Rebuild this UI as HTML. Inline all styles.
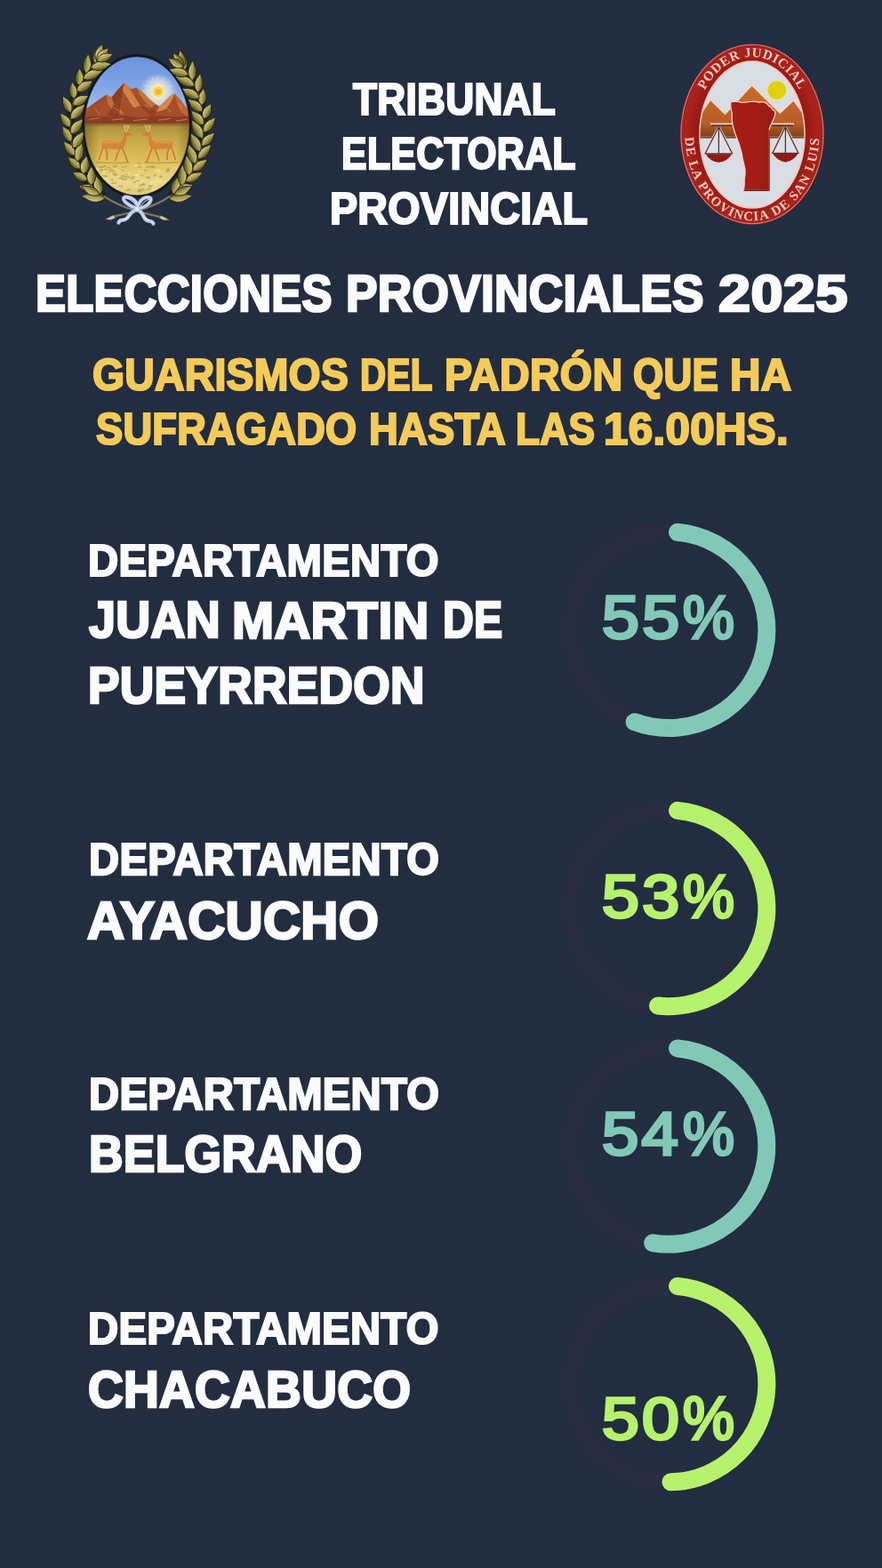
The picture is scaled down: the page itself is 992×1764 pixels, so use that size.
<!DOCTYPE html>
<html lang="es">
<head>
<meta charset="utf-8">
<meta name="viewport" content="width=992">
<title>Tribunal Electoral Provincial - Elecciones Provinciales 2025</title>
<style>
html,body{margin:0;padding:0;background:#232d40;}
body{width:992px;height:1764px;position:relative;overflow:hidden;font-family:"Liberation Sans",sans-serif;}
header,h1,p,section{margin:0;padding:0;font-size:0;line-height:0;}
.t{position:absolute;display:block;white-space:nowrap;line-height:1;font-weight:700;transform-origin:0 0;margin:0;}
svg.layer{position:absolute;left:0;top:0;}
</style>
</head>
<body>
<svg class="layer" width="992" height="1764" viewBox="0 0 992 1764" aria-hidden="true">
<g id="escudo-san-luis">
<defs>
<clipPath id="esClip"><ellipse cx="154.0" cy="141.8" rx="59.0" ry="78.0"/></clipPath>
<linearGradient id="esSky" x1="0" y1="0" x2="0" y2="1"><stop offset="0" stop-color="#6690dc"/><stop offset="0.45" stop-color="#81a5e6"/><stop offset="0.8" stop-color="#a9c0ec"/><stop offset="1" stop-color="#c6d3ec"/></linearGradient>
<linearGradient id="esGround" x1="0" y1="0" x2="0" y2="1"><stop offset="0" stop-color="#a88e3a"/><stop offset="0.14" stop-color="#bfa244"/><stop offset="0.4" stop-color="#d9b852"/><stop offset="0.58" stop-color="#e2c666"/><stop offset="0.8" stop-color="#e9d98e"/><stop offset="1" stop-color="#dcc878"/></linearGradient>
<radialGradient id="esGlow"><stop offset="0" stop-color="#fdf3c4"/><stop offset="0.35" stop-color="#f1e9c8" stop-opacity="0.9"/><stop offset="0.7" stop-color="#d5def0" stop-opacity="0.55"/><stop offset="1" stop-color="#c0d0ee" stop-opacity="0"/></radialGradient>
<radialGradient id="esSun"><stop offset="0" stop-color="#e9b52c"/><stop offset="0.55" stop-color="#f4cf3e"/><stop offset="1" stop-color="#f7e27a"/></radialGradient>
<linearGradient id="esEdge" x1="0" y1="0" x2="1" y2="0"><stop offset="0" stop-color="#3a3010" stop-opacity="0.45"/><stop offset="0.16" stop-color="#3a3010" stop-opacity="0"/><stop offset="0.86" stop-color="#3a3010" stop-opacity="0"/><stop offset="1" stop-color="#3a3010" stop-opacity="0.35"/></linearGradient>
<linearGradient id="esLeaf" x1="0" y1="0" x2="0" y2="1"><stop offset="0" stop-color="#ddd6a0"/><stop offset="0.45" stop-color="#a99d4c"/><stop offset="1" stop-color="#5c5622"/></linearGradient>
<linearGradient id="esLeaf2" x1="0" y1="1" x2="0" y2="0"><stop offset="0" stop-color="#d8d090"/><stop offset="0.5" stop-color="#9c9044"/><stop offset="1" stop-color="#524e1c"/></linearGradient>
<filter id="esSoft" x="-5%" y="-5%" width="110%" height="110%"><feGaussianBlur stdDeviation="0.55"/></filter>
<filter id="esSoft2" x="-10%" y="-10%" width="120%" height="120%"><feGaussianBlur stdDeviation="0.9"/></filter>
</defs>
<g filter="url(#esSoft)">
<ellipse cx="154" cy="141.8" rx="62" ry="81" fill="#151b28"/>
<path d="M116.5 221.0 L114.4 219.5 L112.3 217.9 L110.3 216.2 L108.3 214.4 L106.4 212.5 L104.5 210.5 L102.7 208.5 L100.9 206.4 L99.2 204.3 L97.5 202.0 L95.9 199.7 L94.4 197.4 L93.0 195.0 L91.6 192.5 L90.2 189.9 L89.0 187.4 L87.8 184.7 L86.6 182.1 L85.6 179.3 L84.6 176.6 L83.7 173.8 L82.9 170.9 L82.2 168.1 L81.5 165.2 L80.9 162.3 L80.4 159.3 L80.0 156.4 L79.6 153.4 L79.3 150.4 L79.1 147.4 L79.0 144.4 L79.0 141.4 L79.1 138.4 L79.2 135.4 L79.4 132.4 L79.7 129.4 L80.1 126.4 L80.5 123.5 L81.1 120.5 L81.7 117.6 L82.4 114.7 L83.1 111.9 L84.0 109.0 L84.9 106.2 L85.9 103.5 L87.0 100.8 L88.1 98.1 L89.3 95.5 L90.6 92.9 L91.9 90.4 L93.4 88.0 L94.8 85.6 L96.4 83.2 L98.0 80.9 L99.7 78.7 L101.4 76.6 L103.2 74.5 L105.0 72.5 L106.9 70.6 L108.9 68.7" fill="none" stroke="#191c18" stroke-width="9" opacity="0.85"/>
<path d="M116.5 221.0 L114.4 219.5 L112.3 217.9 L110.3 216.2 L108.3 214.4 L106.4 212.5 L104.5 210.5 L102.7 208.5 L100.9 206.4 L99.2 204.3 L97.5 202.0 L95.9 199.7 L94.4 197.4 L93.0 195.0 L91.6 192.5 L90.2 189.9 L89.0 187.4 L87.8 184.7 L86.6 182.1 L85.6 179.3 L84.6 176.6 L83.7 173.8 L82.9 170.9 L82.2 168.1 L81.5 165.2 L80.9 162.3 L80.4 159.3 L80.0 156.4 L79.6 153.4 L79.3 150.4 L79.1 147.4 L79.0 144.4 L79.0 141.4 L79.1 138.4 L79.2 135.4 L79.4 132.4 L79.7 129.4 L80.1 126.4 L80.5 123.5 L81.1 120.5 L81.7 117.6 L82.4 114.7 L83.1 111.9 L84.0 109.0 L84.9 106.2 L85.9 103.5 L87.0 100.8 L88.1 98.1 L89.3 95.5 L90.6 92.9 L91.9 90.4 L93.4 88.0 L94.8 85.6 L96.4 83.2 L98.0 80.9 L99.7 78.7 L101.4 76.6 L103.2 74.5 L105.0 72.5 L106.9 70.6 L108.9 68.7" fill="none" stroke="#5f5a2c" stroke-width="1.6"/>
<path transform="translate(113.1 218.5) rotate(-105.6)" d="M0 0Q6.8 -7.6 15.4 -3.8Q20.4 -1.3 22.6 0Q20.4 1.3 15.4 3.8Q6.8 7.6 0 0Z" fill="url(#esLeaf)" stroke="#23240f" stroke-width="0.8"/><path transform="translate(113.1 218.5) rotate(-105.6)" d="M2.7 0L20.4 0" stroke="#e6e2b6" stroke-width="0.5" opacity="0.55" fill="none"/>
<path transform="translate(108.1 214.2) rotate(-165.6)" d="M0 0Q6.1 -6.9 13.8 -3.4Q18.3 -1.1 20.4 0Q18.3 1.1 13.8 3.4Q6.1 6.9 0 0Z" fill="url(#esLeaf2)" stroke="#23240f" stroke-width="0.8"/><path transform="translate(108.1 214.2) rotate(-165.6)" d="M2.4 0L18.3 0" stroke="#e6e2b6" stroke-width="0.5" opacity="0.55" fill="none"/>
<path transform="translate(102.5 208.3) rotate(-88.9)" d="M0 0Q6.4 -7.6 14.5 -3.8Q19.2 -1.3 21.4 0Q19.2 1.3 14.5 3.8Q6.4 7.6 0 0Z" fill="url(#esLeaf)" stroke="#23240f" stroke-width="0.8"/><path transform="translate(102.5 208.3) rotate(-88.9)" d="M2.6 0L19.2 0" stroke="#e6e2b6" stroke-width="0.5" opacity="0.55" fill="none"/>
<path transform="translate(98.3 203.1) rotate(-150.8)" d="M0 0Q5.8 -6.9 13.1 -3.4Q17.3 -1.1 19.2 0Q17.3 1.1 13.1 3.4Q5.8 6.9 0 0Z" fill="url(#esLeaf2)" stroke="#23240f" stroke-width="0.8"/><path transform="translate(98.3 203.1) rotate(-150.8)" d="M2.3 0L17.3 0" stroke="#e6e2b6" stroke-width="0.5" opacity="0.55" fill="none"/>
<path transform="translate(93.6 196.1) rotate(-79.5)" d="M0 0Q6.4 -7.6 14.5 -3.8Q19.2 -1.3 21.3 0Q19.2 1.3 14.5 3.8Q6.4 7.6 0 0Z" fill="url(#esLeaf)" stroke="#23240f" stroke-width="0.8"/><path transform="translate(93.6 196.1) rotate(-79.5)" d="M2.6 0L19.2 0" stroke="#e6e2b6" stroke-width="0.5" opacity="0.55" fill="none"/>
<path transform="translate(90.2 189.9) rotate(-136.0)" d="M0 0Q5.7 -6.9 13.0 -3.4Q17.2 -1.1 19.2 0Q17.2 1.1 13.0 3.4Q5.7 6.9 0 0Z" fill="url(#esLeaf2)" stroke="#23240f" stroke-width="0.8"/><path transform="translate(90.2 189.9) rotate(-136.0)" d="M2.3 0L17.2 0" stroke="#e6e2b6" stroke-width="0.5" opacity="0.55" fill="none"/>
<path transform="translate(86.6 182.1) rotate(-77.3)" d="M0 0Q7.0 -7.6 15.8 -3.8Q20.9 -1.3 23.2 0Q20.9 1.3 15.8 3.8Q7.0 7.6 0 0Z" fill="url(#esLeaf)" stroke="#23240f" stroke-width="0.8"/><path transform="translate(86.6 182.1) rotate(-77.3)" d="M2.8 0L20.9 0" stroke="#e6e2b6" stroke-width="0.5" opacity="0.55" fill="none"/>
<path transform="translate(84.2 175.3) rotate(-127.9)" d="M0 0Q6.3 -6.9 14.2 -3.4Q18.8 -1.1 20.9 0Q18.8 1.1 14.2 3.4Q6.3 6.9 0 0Z" fill="url(#esLeaf2)" stroke="#23240f" stroke-width="0.8"/><path transform="translate(84.2 175.3) rotate(-127.9)" d="M2.5 0L18.8 0" stroke="#e6e2b6" stroke-width="0.5" opacity="0.55" fill="none"/>
<path transform="translate(81.8 166.8) rotate(-56.4)" d="M0 0Q6.9 -7.6 15.7 -3.8Q20.8 -1.3 23.1 0Q20.8 1.3 15.7 3.8Q6.9 7.6 0 0Z" fill="url(#esLeaf)" stroke="#23240f" stroke-width="0.8"/><path transform="translate(81.8 166.8) rotate(-56.4)" d="M2.8 0L20.8 0" stroke="#e6e2b6" stroke-width="0.5" opacity="0.55" fill="none"/>
<path transform="translate(80.4 159.6) rotate(-119.8)" d="M0 0Q6.2 -6.9 14.2 -3.4Q18.7 -1.1 20.8 0Q18.7 1.1 14.2 3.4Q6.2 6.9 0 0Z" fill="url(#esLeaf2)" stroke="#23240f" stroke-width="0.8"/><path transform="translate(80.4 159.6) rotate(-119.8)" d="M2.5 0L18.7 0" stroke="#e6e2b6" stroke-width="0.5" opacity="0.55" fill="none"/>
<path transform="translate(79.4 150.7) rotate(-51.1)" d="M0 0Q6.6 -7.6 15.0 -3.8Q19.9 -1.3 22.1 0Q19.9 1.3 15.0 3.8Q6.6 7.6 0 0Z" fill="url(#esLeaf)" stroke="#23240f" stroke-width="0.8"/><path transform="translate(79.4 150.7) rotate(-51.1)" d="M2.7 0L19.9 0" stroke="#e6e2b6" stroke-width="0.5" opacity="0.55" fill="none"/>
<path transform="translate(79.0 143.3) rotate(-124.5)" d="M0 0Q6.0 -6.9 13.5 -3.4Q17.9 -1.1 19.9 0Q17.9 1.1 13.5 3.4Q6.0 6.9 0 0Z" fill="url(#esLeaf2)" stroke="#23240f" stroke-width="0.8"/><path transform="translate(79.0 143.3) rotate(-124.5)" d="M2.4 0L17.9 0" stroke="#e6e2b6" stroke-width="0.5" opacity="0.55" fill="none"/>
<path transform="translate(79.3 134.3) rotate(-46.4)" d="M0 0Q7.2 -7.6 16.2 -3.8Q21.5 -1.3 23.9 0Q21.5 1.3 16.2 3.8Q7.2 7.6 0 0Z" fill="url(#esLeaf)" stroke="#23240f" stroke-width="0.8"/><path transform="translate(79.3 134.3) rotate(-46.4)" d="M2.9 0L21.5 0" stroke="#e6e2b6" stroke-width="0.5" opacity="0.55" fill="none"/>
<path transform="translate(80.0 126.9) rotate(-116.5)" d="M0 0Q6.4 -6.9 14.6 -3.4Q19.3 -1.1 21.5 0Q19.3 1.1 14.6 3.4Q6.4 6.9 0 0Z" fill="url(#esLeaf2)" stroke="#23240f" stroke-width="0.8"/><path transform="translate(80.0 126.9) rotate(-116.5)" d="M2.6 0L19.3 0" stroke="#e6e2b6" stroke-width="0.5" opacity="0.55" fill="none"/>
<path transform="translate(81.6 118.1) rotate(-30.5)" d="M0 0Q6.4 -7.6 14.4 -3.8Q19.1 -1.3 21.2 0Q19.1 1.3 14.4 3.8Q6.4 7.6 0 0Z" fill="url(#esLeaf)" stroke="#23240f" stroke-width="0.8"/><path transform="translate(81.6 118.1) rotate(-30.5)" d="M2.5 0L19.1 0" stroke="#e6e2b6" stroke-width="0.5" opacity="0.55" fill="none"/>
<path transform="translate(83.4 111.1) rotate(-96.9)" d="M0 0Q5.7 -6.9 13.0 -3.4Q17.2 -1.1 19.1 0Q17.2 1.1 13.0 3.4Q5.7 6.9 0 0Z" fill="url(#esLeaf2)" stroke="#23240f" stroke-width="0.8"/><path transform="translate(83.4 111.1) rotate(-96.9)" d="M2.3 0L17.2 0" stroke="#e6e2b6" stroke-width="0.5" opacity="0.55" fill="none"/>
<path transform="translate(86.2 102.7) rotate(-33.5)" d="M0 0Q6.5 -7.6 14.8 -3.8Q19.5 -1.3 21.7 0Q19.5 1.3 14.8 3.8Q6.5 7.6 0 0Z" fill="url(#esLeaf)" stroke="#23240f" stroke-width="0.8"/><path transform="translate(86.2 102.7) rotate(-33.5)" d="M2.6 0L19.5 0" stroke="#e6e2b6" stroke-width="0.5" opacity="0.55" fill="none"/>
<path transform="translate(89.0 96.2) rotate(-88.3)" d="M0 0Q5.9 -6.9 13.3 -3.4Q17.6 -1.1 19.5 0Q17.6 1.1 13.3 3.4Q5.9 6.9 0 0Z" fill="url(#esLeaf2)" stroke="#23240f" stroke-width="0.8"/><path transform="translate(89.0 96.2) rotate(-88.3)" d="M2.3 0L17.6 0" stroke="#e6e2b6" stroke-width="0.5" opacity="0.55" fill="none"/>
<path transform="translate(93.0 88.6) rotate(-23.3)" d="M0 0Q7.5 -7.6 17.1 -3.8Q22.6 -1.3 25.1 0Q22.6 1.3 17.1 3.8Q7.5 7.6 0 0Z" fill="url(#esLeaf)" stroke="#23240f" stroke-width="0.8"/><path transform="translate(93.0 88.6) rotate(-23.3)" d="M3.0 0L22.6 0" stroke="#e6e2b6" stroke-width="0.5" opacity="0.55" fill="none"/>
<path transform="translate(96.7 82.8) rotate(-83.2)" d="M0 0Q6.8 -6.9 15.3 -3.4Q20.3 -1.1 22.6 0Q20.3 1.1 15.3 3.4Q6.8 6.9 0 0Z" fill="url(#esLeaf2)" stroke="#23240f" stroke-width="0.8"/><path transform="translate(96.7 82.8) rotate(-83.2)" d="M2.7 0L20.3 0" stroke="#e6e2b6" stroke-width="0.5" opacity="0.55" fill="none"/>
<path transform="translate(101.7 76.2) rotate(-10.4)" d="M0 0Q7.3 -7.6 16.5 -3.8Q21.8 -1.3 24.2 0Q21.8 1.3 16.5 3.8Q7.3 7.6 0 0Z" fill="url(#esLeaf)" stroke="#23240f" stroke-width="0.8"/><path transform="translate(101.7 76.2) rotate(-10.4)" d="M2.9 0L21.8 0" stroke="#e6e2b6" stroke-width="0.5" opacity="0.55" fill="none"/>
<path transform="translate(106.2 71.3) rotate(-72.5)" d="M0 0Q6.5 -6.9 14.8 -3.4Q19.6 -1.1 21.8 0Q19.6 1.1 14.8 3.4Q6.5 6.9 0 0Z" fill="url(#esLeaf2)" stroke="#23240f" stroke-width="0.8"/><path transform="translate(106.2 71.3) rotate(-72.5)" d="M2.6 0L19.6 0" stroke="#e6e2b6" stroke-width="0.5" opacity="0.55" fill="none"/>
<path transform="translate(108.9 68.7) rotate(-72.1)" d="M0 0Q6.0 -6.8 13.6 -3.4Q18.0 -1.1 20.0 0Q18.0 1.1 13.6 3.4Q6.0 6.8 0 0Z" fill="url(#esLeaf)" stroke="#23240f" stroke-width="0.8"/><path transform="translate(108.9 68.7) rotate(-72.1)" d="M2.4 0L18.0 0" stroke="#e6e2b6" stroke-width="0.5" opacity="0.55" fill="none"/>
<path transform="translate(108.9 68.7) rotate(-48.1)" d="M0 0Q6.0 -6.8 13.6 -3.4Q18.0 -1.1 20.0 0Q18.0 1.1 13.6 3.4Q6.0 6.8 0 0Z" fill="url(#esLeaf)" stroke="#23240f" stroke-width="0.8"/><path transform="translate(108.9 68.7) rotate(-48.1)" d="M2.4 0L18.0 0" stroke="#e6e2b6" stroke-width="0.5" opacity="0.55" fill="none"/>
<path transform="translate(108.9 68.7) rotate(-24.1)" d="M0 0Q6.0 -6.8 13.6 -3.4Q18.0 -1.1 20.0 0Q18.0 1.1 13.6 3.4Q6.0 6.8 0 0Z" fill="url(#esLeaf)" stroke="#23240f" stroke-width="0.8"/><path transform="translate(108.9 68.7) rotate(-24.1)" d="M2.4 0L18.0 0" stroke="#e6e2b6" stroke-width="0.5" opacity="0.55" fill="none"/>
<path transform="translate(118.0 223.6) rotate(187.0)" d="M0 0Q8.1 -7.6 18.4 -3.8Q24.3 -1.3 27.0 0Q24.3 1.3 18.4 3.8Q8.1 7.6 0 0Z" fill="url(#esLeaf)" stroke="#23240f" stroke-width="0.8"/><path transform="translate(118.0 223.6) rotate(187.0)" d="M3.2 0L24.3 0" stroke="#e6e2b6" stroke-width="0.5" opacity="0.55" fill="none"/>
<path transform="translate(112.0 219.0) rotate(205.0)" d="M0 0Q6.6 -6.8 15.0 -3.4Q19.8 -1.1 22.0 0Q19.8 1.1 15.0 3.4Q6.6 6.8 0 0Z" fill="url(#esLeaf)" stroke="#23240f" stroke-width="0.8"/><path transform="translate(112.0 219.0) rotate(205.0)" d="M2.6 0L19.8 0" stroke="#e6e2b6" stroke-width="0.5" opacity="0.55" fill="none"/>
<path d="M191.5 221.0 L193.5 219.6 L195.4 218.1 L197.3 216.5 L199.2 214.8 L201.0 213.1 L202.8 211.3 L204.5 209.4 L206.2 207.5 L207.9 205.5 L209.4 203.4 L211.0 201.3 L212.5 199.1 L213.9 196.9 L215.2 194.6 L216.5 192.3 L217.8 189.9 L219.0 187.5 L220.1 185.0 L221.2 182.5 L222.2 180.0 L223.1 177.4 L224.0 174.8 L224.8 172.1 L225.5 169.5 L226.2 166.8 L226.8 164.0 L227.3 161.3 L227.7 158.5 L228.1 155.7 L228.4 153.0 L228.7 150.1 L228.9 147.3 L229.0 144.5 L229.0 141.7 L229.0 138.9 L228.9 136.1 L228.7 133.2 L228.4 130.4 L228.1 127.6 L227.7 124.9 L227.2 122.1 L226.7 119.4 L226.1 116.6 L225.4 113.9 L224.7 111.3 L223.9 108.6 L223.0 106.0 L222.1 103.4 L221.1 100.9 L220.0 98.4 L218.9 95.9 L217.7 93.5 L216.4 91.1 L215.1 88.8 L213.8 86.5 L212.3 84.3 L210.9 82.1 L209.3 80.0 L207.7 78.0 L206.1 76.0" fill="none" stroke="#191c18" stroke-width="9" opacity="0.85"/>
<path d="M191.5 221.0 L193.5 219.6 L195.4 218.1 L197.3 216.5 L199.2 214.8 L201.0 213.1 L202.8 211.3 L204.5 209.4 L206.2 207.5 L207.9 205.5 L209.4 203.4 L211.0 201.3 L212.5 199.1 L213.9 196.9 L215.2 194.6 L216.5 192.3 L217.8 189.9 L219.0 187.5 L220.1 185.0 L221.2 182.5 L222.2 180.0 L223.1 177.4 L224.0 174.8 L224.8 172.1 L225.5 169.5 L226.2 166.8 L226.8 164.0 L227.3 161.3 L227.7 158.5 L228.1 155.7 L228.4 153.0 L228.7 150.1 L228.9 147.3 L229.0 144.5 L229.0 141.7 L229.0 138.9 L228.9 136.1 L228.7 133.2 L228.4 130.4 L228.1 127.6 L227.7 124.9 L227.2 122.1 L226.7 119.4 L226.1 116.6 L225.4 113.9 L224.7 111.3 L223.9 108.6 L223.0 106.0 L222.1 103.4 L221.1 100.9 L220.0 98.4 L218.9 95.9 L217.7 93.5 L216.4 91.1 L215.1 88.8 L213.8 86.5 L212.3 84.3 L210.9 82.1 L209.3 80.0 L207.7 78.0 L206.1 76.0" fill="none" stroke="#5f5a2c" stroke-width="1.6"/>
<path transform="translate(194.7 218.6) rotate(-72.8)" d="M0 0Q6.4 -7.6 14.5 -3.8Q19.2 -1.3 21.3 0Q19.2 1.3 14.5 3.8Q6.4 7.6 0 0Z" fill="url(#esLeaf2)" stroke="#23240f" stroke-width="0.8"/><path transform="translate(194.7 218.6) rotate(-72.8)" d="M2.6 0L19.2 0" stroke="#e6e2b6" stroke-width="0.5" opacity="0.55" fill="none"/>
<path transform="translate(199.4 214.7) rotate(-21.1)" d="M0 0Q5.8 -6.9 13.0 -3.4Q17.3 -1.1 19.2 0Q17.3 1.1 13.0 3.4Q5.8 6.9 0 0Z" fill="url(#esLeaf)" stroke="#23240f" stroke-width="0.8"/><path transform="translate(199.4 214.7) rotate(-21.1)" d="M2.3 0L17.3 0" stroke="#e6e2b6" stroke-width="0.5" opacity="0.55" fill="none"/>
<path transform="translate(204.7 209.2) rotate(-88.6)" d="M0 0Q7.3 -7.6 16.6 -3.8Q22.0 -1.3 24.4 0Q22.0 1.3 16.6 3.8Q7.3 7.6 0 0Z" fill="url(#esLeaf2)" stroke="#23240f" stroke-width="0.8"/><path transform="translate(204.7 209.2) rotate(-88.6)" d="M2.9 0L22.0 0" stroke="#e6e2b6" stroke-width="0.5" opacity="0.55" fill="none"/>
<path transform="translate(208.7 204.4) rotate(-28.9)" d="M0 0Q6.6 -6.9 14.9 -3.4Q19.8 -1.1 22.0 0Q19.8 1.1 14.9 3.4Q6.6 6.9 0 0Z" fill="url(#esLeaf)" stroke="#23240f" stroke-width="0.8"/><path transform="translate(208.7 204.4) rotate(-28.9)" d="M2.6 0L19.8 0" stroke="#e6e2b6" stroke-width="0.5" opacity="0.55" fill="none"/>
<path transform="translate(213.2 197.9) rotate(-98.2)" d="M0 0Q7.2 -7.6 16.3 -3.8Q21.5 -1.3 23.9 0Q21.5 1.3 16.3 3.8Q7.2 7.6 0 0Z" fill="url(#esLeaf2)" stroke="#23240f" stroke-width="0.8"/><path transform="translate(213.2 197.9) rotate(-98.2)" d="M2.9 0L21.5 0" stroke="#e6e2b6" stroke-width="0.5" opacity="0.55" fill="none"/>
<path transform="translate(216.5 192.3) rotate(-38.2)" d="M0 0Q6.5 -6.9 14.6 -3.4Q19.4 -1.1 21.5 0Q19.4 1.1 14.6 3.4Q6.5 6.9 0 0Z" fill="url(#esLeaf)" stroke="#23240f" stroke-width="0.8"/><path transform="translate(216.5 192.3) rotate(-38.2)" d="M2.6 0L19.4 0" stroke="#e6e2b6" stroke-width="0.5" opacity="0.55" fill="none"/>
<path transform="translate(220.1 185.0) rotate(-110.9)" d="M0 0Q7.5 -7.6 17.0 -3.8Q22.5 -1.3 25.0 0Q22.5 1.3 17.0 3.8Q7.5 7.6 0 0Z" fill="url(#esLeaf2)" stroke="#23240f" stroke-width="0.8"/><path transform="translate(220.1 185.0) rotate(-110.9)" d="M3.0 0L22.5 0" stroke="#e6e2b6" stroke-width="0.5" opacity="0.55" fill="none"/>
<path transform="translate(222.6 178.8) rotate(-47.6)" d="M0 0Q6.7 -6.9 15.3 -3.4Q20.2 -1.1 22.5 0Q20.2 1.1 15.3 3.4Q6.7 6.9 0 0Z" fill="url(#esLeaf)" stroke="#23240f" stroke-width="0.8"/><path transform="translate(222.6 178.8) rotate(-47.6)" d="M2.7 0L20.2 0" stroke="#e6e2b6" stroke-width="0.5" opacity="0.55" fill="none"/>
<path transform="translate(225.1 170.9) rotate(-116.4)" d="M0 0Q7.2 -7.6 16.2 -3.8Q21.5 -1.3 23.9 0Q21.5 1.3 16.2 3.8Q7.2 7.6 0 0Z" fill="url(#esLeaf2)" stroke="#23240f" stroke-width="0.8"/><path transform="translate(225.1 170.9) rotate(-116.4)" d="M2.9 0L21.5 0" stroke="#e6e2b6" stroke-width="0.5" opacity="0.55" fill="none"/>
<path transform="translate(226.7 164.3) rotate(-45.7)" d="M0 0Q6.4 -6.9 14.6 -3.4Q19.3 -1.1 21.5 0Q19.3 1.1 14.6 3.4Q6.4 6.9 0 0Z" fill="url(#esLeaf)" stroke="#23240f" stroke-width="0.8"/><path transform="translate(226.7 164.3) rotate(-45.7)" d="M2.6 0L19.3 0" stroke="#e6e2b6" stroke-width="0.5" opacity="0.55" fill="none"/>
<path transform="translate(228.1 156.0) rotate(-120.7)" d="M0 0Q7.4 -7.6 16.8 -3.8Q22.2 -1.3 24.6 0Q22.2 1.3 16.8 3.8Q7.4 7.6 0 0Z" fill="url(#esLeaf2)" stroke="#23240f" stroke-width="0.8"/><path transform="translate(228.1 156.0) rotate(-120.7)" d="M3.0 0L22.2 0" stroke="#e6e2b6" stroke-width="0.5" opacity="0.55" fill="none"/>
<path transform="translate(228.8 149.1) rotate(-52.0)" d="M0 0Q6.7 -6.9 15.1 -3.4Q20.0 -1.1 22.2 0Q20.0 1.1 15.1 3.4Q6.7 6.9 0 0Z" fill="url(#esLeaf)" stroke="#23240f" stroke-width="0.8"/><path transform="translate(228.8 149.1) rotate(-52.0)" d="M2.7 0L20.0 0" stroke="#e6e2b6" stroke-width="0.5" opacity="0.55" fill="none"/>
<path transform="translate(229.0 140.7) rotate(-130.7)" d="M0 0Q6.5 -7.6 14.7 -3.8Q19.4 -1.3 21.6 0Q19.4 1.3 14.7 3.8Q6.5 7.6 0 0Z" fill="url(#esLeaf2)" stroke="#23240f" stroke-width="0.8"/><path transform="translate(229.0 140.7) rotate(-130.7)" d="M2.6 0L19.4 0" stroke="#e6e2b6" stroke-width="0.5" opacity="0.55" fill="none"/>
<path transform="translate(228.7 133.8) rotate(-63.4)" d="M0 0Q5.8 -6.9 13.2 -3.4Q17.5 -1.1 19.4 0Q17.5 1.1 13.2 3.4Q5.8 6.9 0 0Z" fill="url(#esLeaf)" stroke="#23240f" stroke-width="0.8"/><path transform="translate(228.7 133.8) rotate(-63.4)" d="M2.3 0L17.5 0" stroke="#e6e2b6" stroke-width="0.5" opacity="0.55" fill="none"/>
<path transform="translate(227.8 125.4) rotate(-139.7)" d="M0 0Q6.5 -7.6 14.8 -3.8Q19.6 -1.3 21.8 0Q19.6 1.3 14.8 3.8Q6.5 7.6 0 0Z" fill="url(#esLeaf2)" stroke="#23240f" stroke-width="0.8"/><path transform="translate(227.8 125.4) rotate(-139.7)" d="M2.6 0L19.6 0" stroke="#e6e2b6" stroke-width="0.5" opacity="0.55" fill="none"/>
<path transform="translate(226.6 118.6) rotate(-82.9)" d="M0 0Q5.9 -6.9 13.3 -3.4Q17.6 -1.1 19.6 0Q17.6 1.1 13.3 3.4Q5.9 6.9 0 0Z" fill="url(#esLeaf)" stroke="#23240f" stroke-width="0.8"/><path transform="translate(226.6 118.6) rotate(-82.9)" d="M2.4 0L17.6 0" stroke="#e6e2b6" stroke-width="0.5" opacity="0.55" fill="none"/>
<path transform="translate(224.5 110.5) rotate(-152.3)" d="M0 0Q7.3 -7.6 16.6 -3.8Q21.9 -1.3 24.3 0Q21.9 1.3 16.6 3.8Q7.3 7.6 0 0Z" fill="url(#esLeaf2)" stroke="#23240f" stroke-width="0.8"/><path transform="translate(224.5 110.5) rotate(-152.3)" d="M2.9 0L21.9 0" stroke="#e6e2b6" stroke-width="0.5" opacity="0.55" fill="none"/>
<path transform="translate(222.3 104.1) rotate(-82.6)" d="M0 0Q6.6 -6.9 14.9 -3.4Q19.7 -1.1 21.9 0Q19.7 1.1 14.9 3.4Q6.6 6.9 0 0Z" fill="url(#esLeaf)" stroke="#23240f" stroke-width="0.8"/><path transform="translate(222.3 104.1) rotate(-82.6)" d="M2.6 0L19.7 0" stroke="#e6e2b6" stroke-width="0.5" opacity="0.55" fill="none"/>
<path transform="translate(219.2 96.6) rotate(-153.5)" d="M0 0Q7.6 -7.6 17.3 -3.8Q22.8 -1.3 25.4 0Q22.8 1.3 17.3 3.8Q7.6 7.6 0 0Z" fill="url(#esLeaf2)" stroke="#23240f" stroke-width="0.8"/><path transform="translate(219.2 96.6) rotate(-153.5)" d="M3.0 0L22.8 0" stroke="#e6e2b6" stroke-width="0.5" opacity="0.55" fill="none"/>
<path transform="translate(216.2 90.7) rotate(-89.2)" d="M0 0Q6.9 -6.9 15.5 -3.4Q20.6 -1.1 22.8 0Q20.6 1.1 15.5 3.4Q6.9 6.9 0 0Z" fill="url(#esLeaf)" stroke="#23240f" stroke-width="0.8"/><path transform="translate(216.2 90.7) rotate(-89.2)" d="M2.7 0L20.6 0" stroke="#e6e2b6" stroke-width="0.5" opacity="0.55" fill="none"/>
<path transform="translate(212.1 83.9) rotate(-166.6)" d="M0 0Q7.2 -7.6 16.3 -3.8Q21.6 -1.3 24.0 0Q21.6 1.3 16.3 3.8Q7.2 7.6 0 0Z" fill="url(#esLeaf2)" stroke="#23240f" stroke-width="0.8"/><path transform="translate(212.1 83.9) rotate(-166.6)" d="M2.9 0L21.6 0" stroke="#e6e2b6" stroke-width="0.5" opacity="0.55" fill="none"/>
<path transform="translate(208.3 78.7) rotate(-102.2)" d="M0 0Q6.5 -6.9 14.7 -3.4Q19.4 -1.1 21.6 0Q19.4 1.1 14.7 3.4Q6.5 6.9 0 0Z" fill="url(#esLeaf)" stroke="#23240f" stroke-width="0.8"/><path transform="translate(208.3 78.7) rotate(-102.2)" d="M2.6 0L19.4 0" stroke="#e6e2b6" stroke-width="0.5" opacity="0.55" fill="none"/>
<path transform="translate(206.1 76.0) rotate(-100.8)" d="M0 0Q6.0 -6.8 13.6 -3.4Q18.0 -1.1 20.0 0Q18.0 1.1 13.6 3.4Q6.0 6.8 0 0Z" fill="url(#esLeaf)" stroke="#23240f" stroke-width="0.8"/><path transform="translate(206.1 76.0) rotate(-100.8)" d="M2.4 0L18.0 0" stroke="#e6e2b6" stroke-width="0.5" opacity="0.55" fill="none"/>
<path transform="translate(206.1 76.0) rotate(-124.8)" d="M0 0Q6.0 -6.8 13.6 -3.4Q18.0 -1.1 20.0 0Q18.0 1.1 13.6 3.4Q6.0 6.8 0 0Z" fill="url(#esLeaf)" stroke="#23240f" stroke-width="0.8"/><path transform="translate(206.1 76.0) rotate(-124.8)" d="M2.4 0L18.0 0" stroke="#e6e2b6" stroke-width="0.5" opacity="0.55" fill="none"/>
<path transform="translate(206.1 76.0) rotate(-148.8)" d="M0 0Q6.0 -6.8 13.6 -3.4Q18.0 -1.1 20.0 0Q18.0 1.1 13.6 3.4Q6.0 6.8 0 0Z" fill="url(#esLeaf)" stroke="#23240f" stroke-width="0.8"/><path transform="translate(206.1 76.0) rotate(-148.8)" d="M2.4 0L18.0 0" stroke="#e6e2b6" stroke-width="0.5" opacity="0.55" fill="none"/>
<path transform="translate(190.0 223.6) rotate(-7.0)" d="M0 0Q8.1 -7.6 18.4 -3.8Q24.3 -1.3 27.0 0Q24.3 1.3 18.4 3.8Q8.1 7.6 0 0Z" fill="url(#esLeaf2)" stroke="#23240f" stroke-width="0.8"/><path transform="translate(190.0 223.6) rotate(-7.0)" d="M3.2 0L24.3 0" stroke="#e6e2b6" stroke-width="0.5" opacity="0.55" fill="none"/>
<path transform="translate(196.0 219.0) rotate(-25.0)" d="M0 0Q6.6 -6.8 15.0 -3.4Q19.8 -1.1 22.0 0Q19.8 1.1 15.0 3.4Q6.6 6.8 0 0Z" fill="url(#esLeaf2)" stroke="#23240f" stroke-width="0.8"/><path transform="translate(196.0 219.0) rotate(-25.0)" d="M2.6 0L19.8 0" stroke="#e6e2b6" stroke-width="0.5" opacity="0.55" fill="none"/>
<path d="M116.6 220.6Q132 231 154 237.5Q172 242 186 245.6" fill="none" stroke="#7d7d5c" stroke-width="2.2"/>
<path d="M191.4 220.6Q176 231 154 237.5Q136 241.4 124 244.6" fill="none" stroke="#7d7d5c" stroke-width="2.2"/>
<path d="M181 242.4L190.6 247.6L184.4 247.8L179.4 245.4Z" fill="#cfc9a0" stroke="#5c5a34" stroke-width="0.4"/>
<path d="M128 242L118.4 246.4L124.6 247.4L129.6 245.2Z" fill="#cfc9a0" stroke="#5c5a34" stroke-width="0.4"/>
<ellipse cx="154.0" cy="141.8" rx="60.6" ry="79.6" fill="#10151f"/>
<g clip-path="url(#esClip)">
<rect x="92" y="60" width="124" height="82" fill="url(#esSky)"/>
<circle cx="177.8" cy="103" r="21" fill="url(#esGlow)"/>
<path d="M185.3 103.0L195.3 103.0M185.2 104.5L192.0 105.8M184.7 105.9L194.0 109.7M184.0 107.2L189.9 111.1M183.1 108.3L190.2 115.4M182.0 109.2L185.9 115.1M180.7 109.9L184.5 119.2M179.3 110.4L180.6 117.2M177.8 110.5L177.8 120.5M176.3 110.4L175.0 117.2M174.9 109.9L171.1 119.2M173.6 109.2L169.7 115.1M172.5 108.3L165.4 115.4M171.6 107.2L165.7 111.1M170.9 105.9L161.6 109.7M170.4 104.5L163.6 105.8M170.3 103.0L160.3 103.0M170.4 101.5L163.6 100.2M170.9 100.1L161.6 96.3M171.6 98.8L165.7 94.9M172.5 97.7L165.4 90.6M173.6 96.8L169.7 90.9M174.9 96.1L171.1 86.8M176.3 95.6L175.0 88.8M177.8 95.5L177.8 85.5M179.3 95.6L180.6 88.8M180.7 96.1L184.5 86.8M182.0 96.8L185.9 90.9M183.1 97.7L190.2 90.6M184.0 98.8L189.9 94.9M184.7 100.1L194.0 96.3M185.2 101.5L192.0 100.2" stroke="#f4f0dc" stroke-width="0.7" opacity="0.75" fill="none"/>
<path d="M92 128L97 122.6L108 114.6L119.5 106.4L125.5 109.6L132 101.4L139.6 93.2L144 97.2L147.4 100.2L153.6 98.6L160 103.6L168 111.6L174.6 117L179.4 119.8L186 113.6L191.4 108L196.4 105.4L203 112.4L209 120.4L216 128V141H92Z" fill="#a4502a"/>
<path d="M139.6 93.2L144 97.2L151 108L158 119L150 121L143 110L137 100.6Z" fill="#d27e44"/>
<path d="M153.6 98.6L160 103.6L168 111.6L174.6 117L170 121.6L162 113L156.6 105.4Z" fill="#c87238"/>
<path d="M119.5 106.4L125.5 109.6L132 118L140 129L128 127L121 116Z" fill="#c66e38"/>
<path d="M196.4 105.4L191.4 108L186 113.6L179.4 119.8L176 126L186 123L192 115.4Z" fill="#d6884a"/>
<path d="M196.4 105.4L203 112.4L209 120.4L216 128V134L204 127L199 116Z" fill="#c06434"/>
<path d="M139.6 93.2L132 101.4L125.5 109.6L128 118L120 130L134 131L136 114Z" fill="#8a3a22" opacity="0.8"/>
<path d="M119.5 106.4L108 114.6L97 122.6L92 128V139L106 136L113 122Z" fill="#a04a2a" opacity="0.85"/>
<path d="M158 119L164 126L172 131L176 126L170 121.6Z" fill="#8c3c22" opacity="0.8"/>
<path d="M92 133L104 130L122 131.6L140 130L158 132.6L176 130L196 131.6L216 130V141H92Z" fill="#8a3b23" opacity="0.9"/>
<path d="M100 134.4L112 132.6M126 135L139 133.6M150 135.6L166 134M178 135.2L192 133.4M198 136L210 134.4" stroke="#d6a385" stroke-width="0.9" opacity="0.7" fill="none"/>
<path d="M128 121L136 126M146 112L153 121M163 117L169 124M186 120L192 126M107 122L112 129M200 116L205 123" stroke="#f0b88c" stroke-width="0.8" opacity="0.55" fill="none"/>
<rect x="92" y="139.4" width="124" height="82" fill="url(#esGround)"/>
<rect x="92" y="139.4" width="124" height="2.2" fill="#8f6a2a" opacity="0.7"/>
<rect x="92" y="139.4" width="124" height="82" fill="url(#esEdge)"/>
<g fill="#a8923a" opacity="0.55"><ellipse cx="151.2" cy="204.9" rx="1.7" ry="1.1"/><ellipse cx="188.8" cy="192.4" rx="2.3" ry="1.1"/><ellipse cx="118.1" cy="186.9" rx="1.7" ry="1.2"/><ellipse cx="114.0" cy="191.2" rx="2.3" ry="1.2"/><ellipse cx="159.3" cy="212.2" rx="3.1" ry="1.2"/><ellipse cx="130.1" cy="196.7" rx="2.2" ry="1.2"/><ellipse cx="119.0" cy="190.7" rx="2.0" ry="1.0"/><ellipse cx="163.6" cy="191.7" rx="1.6" ry="1.0"/><ellipse cx="139.9" cy="201.7" rx="3.3" ry="1.1"/><ellipse cx="155.7" cy="203.4" rx="2.8" ry="0.7"/><ellipse cx="142.4" cy="196.2" rx="1.8" ry="1.1"/><ellipse cx="122.5" cy="188.4" rx="2.2" ry="0.7"/><ellipse cx="166.3" cy="187.9" rx="2.1" ry="0.9"/><ellipse cx="139.3" cy="187.1" rx="3.1" ry="1.3"/><ellipse cx="150.3" cy="199.0" rx="1.8" ry="0.8"/><ellipse cx="137.0" cy="191.7" rx="3.1" ry="0.8"/><ellipse cx="157.1" cy="187.8" rx="2.6" ry="0.7"/><ellipse cx="157.0" cy="215.3" rx="3.2" ry="1.1"/><ellipse cx="128.2" cy="195.1" rx="1.9" ry="1.2"/><ellipse cx="157.5" cy="208.7" rx="2.2" ry="0.8"/><ellipse cx="124.5" cy="200.1" rx="2.2" ry="0.7"/><ellipse cx="128.0" cy="205.9" rx="3.3" ry="1.0"/><ellipse cx="123.8" cy="190.5" rx="2.0" ry="0.8"/><ellipse cx="167.4" cy="212.7" rx="3.1" ry="1.0"/><ellipse cx="170.5" cy="209.4" rx="1.8" ry="1.1"/><ellipse cx="181.0" cy="198.8" rx="1.9" ry="1.2"/><ellipse cx="135.9" cy="209.4" rx="3.3" ry="0.9"/><ellipse cx="143.3" cy="214.2" rx="2.9" ry="0.8"/><ellipse cx="113.7" cy="188.0" rx="3.2" ry="1.2"/><ellipse cx="137.8" cy="201.1" rx="1.8" ry="0.7"/><ellipse cx="156.9" cy="213.8" rx="2.4" ry="1.2"/><ellipse cx="189.2" cy="190.0" rx="2.1" ry="0.9"/><ellipse cx="126.0" cy="202.4" rx="2.1" ry="1.0"/><ellipse cx="138.2" cy="198.1" rx="2.7" ry="1.2"/><ellipse cx="145.4" cy="213.3" rx="2.5" ry="1.0"/><ellipse cx="156.5" cy="183.6" rx="2.4" ry="0.8"/><ellipse cx="118.6" cy="198.6" rx="2.9" ry="1.0"/><ellipse cx="135.2" cy="200.1" rx="2.6" ry="1.2"/><ellipse cx="126.8" cy="192.1" rx="3.0" ry="1.0"/><ellipse cx="160.7" cy="208.1" rx="3.2" ry="1.0"/><ellipse cx="166.2" cy="199.7" rx="2.5" ry="1.1"/><ellipse cx="148.9" cy="200.6" rx="2.5" ry="1.3"/><ellipse cx="160.4" cy="214.1" rx="3.1" ry="0.8"/><ellipse cx="171.3" cy="187.7" rx="3.2" ry="1.3"/><ellipse cx="143.0" cy="199.1" rx="3.4" ry="1.2"/><ellipse cx="117.4" cy="197.2" rx="2.5" ry="0.9"/><ellipse cx="121.1" cy="193.5" rx="2.9" ry="0.7"/><ellipse cx="159.8" cy="197.5" rx="1.6" ry="0.9"/><ellipse cx="167.4" cy="199.9" rx="1.7" ry="1.3"/><ellipse cx="129.2" cy="187.3" rx="2.4" ry="1.2"/><ellipse cx="188.4" cy="191.5" rx="1.9" ry="1.3"/><ellipse cx="161.6" cy="206.1" rx="1.8" ry="0.7"/><ellipse cx="174.3" cy="197.0" rx="1.7" ry="1.3"/><ellipse cx="168.5" cy="209.5" rx="1.8" ry="1.2"/></g>
<g fill="#f3e6a6" opacity="0.55"><ellipse cx="110.7" cy="210.2" rx="2.9" ry="1.0"/><ellipse cx="159.3" cy="211.9" rx="2.5" ry="0.9"/><ellipse cx="156.7" cy="192.7" rx="2.2" ry="0.9"/><ellipse cx="109.0" cy="191.6" rx="2.6" ry="1.0"/><ellipse cx="179.9" cy="194.1" rx="3.0" ry="0.9"/><ellipse cx="138.7" cy="186.5" rx="2.5" ry="0.8"/><ellipse cx="177.3" cy="201.4" rx="2.4" ry="1.1"/><ellipse cx="197.5" cy="189.0" rx="3.6" ry="1.1"/><ellipse cx="153.5" cy="209.4" rx="2.8" ry="1.1"/><ellipse cx="172.8" cy="213.5" rx="2.7" ry="1.3"/><ellipse cx="174.7" cy="203.8" rx="2.8" ry="1.0"/><ellipse cx="109.4" cy="189.6" rx="2.1" ry="1.2"/><ellipse cx="129.6" cy="190.6" rx="2.2" ry="1.3"/><ellipse cx="191.1" cy="204.8" rx="2.6" ry="0.9"/><ellipse cx="133.3" cy="198.9" rx="2.3" ry="1.1"/><ellipse cx="130.3" cy="212.9" rx="3.9" ry="1.1"/><ellipse cx="128.4" cy="213.0" rx="2.6" ry="1.0"/><ellipse cx="104.1" cy="196.7" rx="2.9" ry="1.1"/><ellipse cx="124.1" cy="200.1" rx="2.0" ry="1.0"/><ellipse cx="113.0" cy="197.2" rx="2.1" ry="0.8"/><ellipse cx="134.4" cy="192.5" rx="3.2" ry="1.1"/><ellipse cx="179.1" cy="204.4" rx="3.4" ry="1.3"/><ellipse cx="143.0" cy="195.1" rx="4.0" ry="0.9"/><ellipse cx="176.4" cy="204.0" rx="2.1" ry="1.3"/><ellipse cx="193.2" cy="203.6" rx="3.5" ry="1.3"/><ellipse cx="117.9" cy="200.7" rx="3.0" ry="1.3"/><ellipse cx="184.5" cy="209.1" rx="3.2" ry="1.3"/><ellipse cx="172.3" cy="205.4" rx="2.5" ry="0.8"/><ellipse cx="117.3" cy="196.1" rx="2.2" ry="1.3"/><ellipse cx="159.9" cy="203.6" rx="3.3" ry="1.2"/><ellipse cx="152.9" cy="186.1" rx="3.6" ry="1.2"/><ellipse cx="154.3" cy="201.0" rx="3.3" ry="0.8"/><ellipse cx="177.7" cy="193.1" rx="2.1" ry="1.0"/><ellipse cx="176.9" cy="191.7" rx="3.5" ry="1.4"/><ellipse cx="153.4" cy="196.7" rx="3.0" ry="1.2"/><ellipse cx="180.7" cy="203.3" rx="3.3" ry="0.8"/><ellipse cx="118.7" cy="193.1" rx="3.5" ry="1.0"/><ellipse cx="160.8" cy="186.3" rx="2.1" ry="1.0"/><ellipse cx="171.2" cy="205.4" rx="3.4" ry="1.0"/><ellipse cx="155.7" cy="199.0" rx="2.9" ry="0.9"/></g>
<g><path d="M114.6 160.2Q119 157.8 126 158.8Q132 159.6 136.8 158.6Q138.6 155 139.6 151.6L142.2 152.4Q142.2 157 141 161.4Q140 165.6 137.6 167.2Q131 168.4 124 167.4Q119 167.8 115.6 166.6Q113.6 163.6 114.6 160.2Z" fill="#d4853a"/><path d="M139.4 152.2Q139.6 149.4 141.4 148.2Q144.4 148 146.6 149.8L148.6 151.2L147.4 152.4L144.6 152.6Q142 153.4 139.4 152.2Z" fill="#d08036"/><path d="M115.8 165.4L113.4 172.4L111.6 179.6M118.6 166.6L120.6 173L120.4 179.6M135 166.8L132 173.4L129.8 180.4M137.4 166.4L140.6 174L143.6 182.2" stroke="#c87830" stroke-width="1.5" fill="none" stroke-linecap="round" stroke-linejoin="round"/><path d="M141.4 148.2L140.4 144.4L139.6 140.4M140.4 144.4L142 141M142.6 148L144 144.2L145.8 140.8M144 144.2L143.4 141.2" stroke="#e6d6a4" stroke-width="0.75" fill="none" stroke-linecap="round"/><path d="M116.4 160.6Q124 159.6 136 160.2" stroke="#eaa55c" stroke-width="1.1" fill="none" opacity="0.8"/></g>
<g transform="translate(308.6 0) scale(-1 1)"><path d="M114.6 160.2Q119 157.8 126 158.8Q132 159.6 136.8 158.6Q138.6 155 139.6 151.6L142.2 152.4Q142.2 157 141 161.4Q140 165.6 137.6 167.2Q131 168.4 124 167.4Q119 167.8 115.6 166.6Q113.6 163.6 114.6 160.2Z" fill="#d4853a"/><path d="M139.4 152.2Q139.6 149.4 141.4 148.2Q144.4 148 146.6 149.8L148.6 151.2L147.4 152.4L144.6 152.6Q142 153.4 139.4 152.2Z" fill="#d08036"/><path d="M115.8 165.4L113.4 172.4L111.6 179.6M118.6 166.6L120.6 173L120.4 179.6M135 166.8L132 173.4L129.8 180.4M137.4 166.4L140.6 174L143.6 182.2" stroke="#c87830" stroke-width="1.5" fill="none" stroke-linecap="round" stroke-linejoin="round"/><path d="M141.4 148.2L140.4 144.4L139.6 140.4M140.4 144.4L142 141M142.6 148L144 144.2L145.8 140.8M144 144.2L143.4 141.2" stroke="#e6d6a4" stroke-width="0.75" fill="none" stroke-linecap="round"/><path d="M116.4 160.6Q124 159.6 136 160.2" stroke="#eaa55c" stroke-width="1.1" fill="none" opacity="0.8"/></g>
<path d="M108 182.4Q126 184 146 182.6M162 182.6Q182 184 200 182.4" stroke="#9a7f2a" stroke-width="1.2" opacity="0.6" fill="none"/>
<circle cx="177.8" cy="103" r="7.6" fill="#f8edb0" opacity="0.9"/>
<circle cx="177.8" cy="103" r="6.2" fill="url(#esSun)"/>
<path d="M175.4 102.2h1.6M179.2 102.2h1.6M176.6 105.2h2.6" stroke="#c88a1c" stroke-width="0.7" fill="none"/>
</g>
<ellipse cx="154.0" cy="141.8" rx="59.0" ry="78.0" fill="none" stroke="#2a2a1a" stroke-width="0.8" opacity="0.7"/>
<g fill="none" stroke-linecap="round" stroke-linejoin="round">
<path d="M153.6 234.4Q147 232.6 141 227.4Q136.6 222.6 141.4 221.4Q148.6 221.6 153 227.4Q155 230.6 154 234M154.6 234Q155.4 228 160.6 223.6Q166.4 220.4 169.6 223Q170.6 227 165 231Q160 234 155.4 235" stroke="#8496c8" stroke-width="4.2"/>
<path d="M153.6 234.4Q147 232.6 141 227.4Q136.6 222.6 141.4 221.4Q148.6 221.6 153 227.4Q155 230.6 154 234M154.6 234Q155.4 228 160.6 223.6Q166.4 220.4 169.6 223Q170.6 227 165 231Q160 234 155.4 235" stroke="#c9d5f0" stroke-width="3"/>
<path d="M152.6 236Q147 239 144.6 243.4Q142 247.4 138 247.6Q134.4 247.4 133.4 250.6M155.6 236.4Q160 239 161.6 243.6Q163.4 248 167.4 248.6Q171 248.6 172.6 251.6" stroke="#8496c8" stroke-width="4.4"/>
<path d="M152.6 236Q147 239 144.6 243.4Q142 247.4 138 247.6Q134.4 247.4 133.4 250.6M155.6 236.4Q160 239 161.6 243.6Q163.4 248 167.4 248.6Q171 248.6 172.6 251.6" stroke="#c6d2ee" stroke-width="3.2"/>
<path d="M142 223Q148 224.6 152 230M168 224Q162 226 158 232M146 242.4Q143 246.6 138 246.6M162.6 244Q164.6 247.6 168 247.6" stroke="#f6f8fd" stroke-width="1" opacity="0.9"/>
</g>
<ellipse cx="154.2" cy="235.2" rx="3.3" ry="2.9" fill="#dfe7f8" stroke="#8a9cca" stroke-width="0.5"/>
</g>
</g>

<g id="poder-judicial">
<defs>
<clipPath id="pjInner"><ellipse cx="846" cy="151.6" rx="58.4" ry="81.8"/></clipPath>
<radialGradient id="pjRing" cx="0.5" cy="0.5" r="0.5"><stop offset="0.72" stop-color="#8e1c17"/><stop offset="0.84" stop-color="#a31f19"/><stop offset="0.95" stop-color="#ab221b"/><stop offset="1" stop-color="#98241e"/></radialGradient>
<linearGradient id="pjMount" x1="0" y1="0" x2="0" y2="1"><stop offset="0" stop-color="#c96d2c"/><stop offset="0.7" stop-color="#b95f27"/><stop offset="1" stop-color="#7d3d1b"/></linearGradient>
<linearGradient id="pjProv" x1="0" y1="0" x2="1" y2="0"><stop offset="0" stop-color="#a81d16"/><stop offset="0.6" stop-color="#a31c15"/><stop offset="1" stop-color="#951a14"/></linearGradient>
<filter id="pjSoft" x="-5%" y="-5%" width="110%" height="110%"><feGaussianBlur stdDeviation="0.45"/></filter>
<path id="pjTop" d="M781 151.6A65 87.6 0 0 1 911 151.6"/>
<path id="pjBot" d="M770.6 151.6A75.4 96.6 0 0 0 921.4 151.6"/>
</defs>
<g filter="url(#pjSoft)">
<ellipse cx="846" cy="150.9" rx="81" ry="101.7" fill="url(#pjRing)"/>
<ellipse cx="846" cy="150.9" rx="80" ry="100.7" fill="none" stroke="#d98c84" stroke-width="1.1" opacity="0.85"/>
<ellipse cx="846" cy="151.6" rx="59" ry="82.4" fill="#d9dde4" stroke="#f4c9bb" stroke-width="1.7"/>
<g clip-path="url(#pjInner)">
<path d="M784 134L798.9 111.8L815.5 128L845.7 95.6L877.3 127L892.5 112.4L908 134V155.4H784Z" fill="url(#pjMount)" stroke="#f3d9c8" stroke-width="1.8" stroke-linejoin="miter"/>
<rect x="784" y="153.6" width="124" height="30" fill="#d9dde4"/>
<path d="M786 154.6H906" stroke="#7a3a1c" stroke-width="1.6"/>
<path d="M808.4 142.5L791.5 174H825.3Z" fill="#dcdfe6" stroke="#f0d4c6" stroke-width="2.4"/>
<path d="M883.4 142.5L867 173.6H899.8Z" fill="#dcdfe6" stroke="#f0d4c6" stroke-width="2.4"/>
<circle cx="873.8" cy="101.6" r="11.4" fill="#e9e6a8"/>
<circle cx="873.8" cy="101.6" r="10.4" fill="#e1d00d"/>
<path d="M799 139.4H893" stroke="#f0d4c6" stroke-width="2"/>
<path d="M800 141.2H892" stroke="#5b2a22" stroke-width="1.5"/>
<g fill="none" stroke="#4b3036" stroke-width="1.25" stroke-linejoin="round">
<path d="M808.4 142.5L793.2 172.8H823.6Z"/><path d="M808.4 142.5V172.8"/>
<path d="M883.4 142.5L868.8 172.4H898Z"/><path d="M883.4 142.5V172.4"/>
</g>
<path d="M793.6 173.2H823.2Q818.5 181.4 808.4 182.8Q798.3 181.4 793.6 173.2Z" fill="#8e1c16"/>
<path d="M869.2 172.8H897.6Q893 181 883.4 182.4Q873.8 181 869.2 172.8Z" fill="#8e1c16"/>
<path d="M821.6 115.2Q826 113.6 831 114.6Q836 116 841 114.6Q848 113.4 854 115Q859 114 862.4 116.4Q864 119.6 867.4 120.6Q868.2 123.6 871.4 125Q872.8 128.4 871 131.4Q869.6 135 868 138.6Q866 142 865 146V214.4H836.4Q837.6 208 837.2 202Q838.6 196 838 190.6Q836.6 184 835.2 178.4Q834.2 171 832.6 166.4Q830.6 160 828.6 155Q825.6 148 824.2 141Q822.6 134 823.4 128Q821.4 121 821.6 115.2Z" fill="url(#pjProv)" stroke="#f4cfc2" stroke-width="1.3" stroke-linejoin="round"/>
<path d="M836.4 214.4H865" stroke="#6e1a14" stroke-width="1.4"/>
<path d="M865 146V214.4" stroke="#a31c15" stroke-width="1.6"/>
</g>
<g font-family="'Liberation Serif','DejaVu Serif',serif" font-weight="700" fill="#f6cdc2" text-anchor="middle">
<text font-size="15" letter-spacing="0.6"><textPath href="#pjTop" startOffset="50%">PODER JUDICIAL</textPath></text>
<text font-size="14.8" letter-spacing="1.35"><textPath href="#pjBot" startOffset="50%">DE LA PROVINCIA DE SAN LUIS</textPath></text>
</g>
</g>
</g>

<g id="rings">
<circle cx="752" cy="708.7" r="110.4" fill="none" stroke="#272c41" stroke-width="20"/>
<path d="M762.01 598.75A110.4 110.4 0 1 1 713.70 812.24" fill="none" stroke="#81c9b6" stroke-width="20" stroke-linecap="round"/>
<circle cx="752" cy="1021.8" r="110.4" fill="none" stroke="#272c41" stroke-width="20"/>
<path d="M762.01 911.85A110.4 110.4 0 1 1 740.08 1131.55" fill="none" stroke="#b6f26c" stroke-width="20" stroke-linecap="round"/>
<circle cx="752" cy="1289.4" r="110.4" fill="none" stroke="#272c41" stroke-width="20"/>
<path d="M762.01 1179.45A110.4 110.4 0 1 1 734.16 1398.35" fill="none" stroke="#81c9b6" stroke-width="20" stroke-linecap="round"/>
<circle cx="752" cy="1556.9" r="110.4" fill="none" stroke="#272c41" stroke-width="20"/>
<path d="M762.01 1446.95A110.4 110.4 0 0 1 754.50 1667.27" fill="none" stroke="#b6f26c" stroke-width="20" stroke-linecap="round"/>
</g>
</svg>
<header class="org">
<span class="t" style="left:397.25px;top:87.52px;font-size:49.72px;letter-spacing:0.30px;color:#fbfbfb;-webkit-text-stroke:2.24px #fbfbfb;transform:scaleX(0.8893)">TRIBUNAL</span>
<span class="t" style="left:384.49px;top:147.52px;font-size:50.07px;letter-spacing:0.30px;color:#fbfbfb;-webkit-text-stroke:2.25px #fbfbfb;transform:scaleX(0.8571)">ELECTORAL</span>
<span class="t" style="left:371.06px;top:210.07px;font-size:49.47px;letter-spacing:0.30px;color:#fbfbfb;-webkit-text-stroke:2.23px #fbfbfb;transform:scaleX(0.9420)">PROVINCIAL</span>
</header>
<h1 class="title">
<span class="t" style="left:39.69px;top:301.57px;font-size:57.69px;letter-spacing:0.30px;color:#fbfbfb;-webkit-text-stroke:2.60px #fbfbfb;transform:scaleX(0.8825)">ELECCIONES</span>
<span class="t" style="left:388.70px;top:301.57px;font-size:57.69px;letter-spacing:0.30px;color:#fbfbfb;-webkit-text-stroke:2.60px #fbfbfb;transform:scaleX(0.9230)">PROVINCIALES</span>
<span class="t" style="left:808.41px;top:303.10px;font-size:56.73px;letter-spacing:0.30px;color:#fbfbfb;-webkit-text-stroke:2.55px #fbfbfb;transform:scaleX(1.1433)">2025</span>
</h1>
<p class="sub">
<span class="t" style="left:104.47px;top:396.55px;font-size:49.40px;letter-spacing:0.30px;color:#f4cb58;-webkit-text-stroke:2.22px #f4cb58;transform:scaleX(0.9374)">GUARISMOS</span>
<span class="t" style="left:404.93px;top:396.72px;font-size:49.44px;letter-spacing:0.30px;color:#f4cb58;-webkit-text-stroke:2.22px #f4cb58;transform:scaleX(0.8181)">DEL</span>
<span class="t" style="left:500.05px;top:396.76px;font-size:49.24px;letter-spacing:0.30px;color:#f4cb58;-webkit-text-stroke:2.22px #f4cb58;transform:scaleX(0.9476)">PADRÓN</span>
<span class="t" style="left:712.00px;top:397.07px;font-size:50.65px;letter-spacing:0.30px;color:#f4cb58;-webkit-text-stroke:2.28px #f4cb58;transform:scaleX(0.8700)">QUE</span>
<span class="t" style="left:820.61px;top:396.72px;font-size:49.33px;letter-spacing:0.30px;color:#f4cb58;-webkit-text-stroke:2.22px #f4cb58;transform:scaleX(0.9663)">HA</span>
<span class="t" style="left:108.06px;top:458.54px;font-size:49.69px;letter-spacing:0.30px;color:#f4cb58;-webkit-text-stroke:2.24px #f4cb58;transform:scaleX(0.9088)">SUFRAGADO</span>
<span class="t" style="left:414.50px;top:458.50px;font-size:49.65px;letter-spacing:0.30px;color:#f4cb58;-webkit-text-stroke:2.23px #f4cb58;transform:scaleX(0.9129)">HASTA</span>
<span class="t" style="left:579.79px;top:458.18px;font-size:49.48px;letter-spacing:0.30px;color:#f4cb58;-webkit-text-stroke:2.23px #f4cb58;transform:scaleX(0.8953)">LAS</span>
<span class="t" style="left:679.07px;top:458.09px;font-size:49.35px;letter-spacing:0.30px;color:#f4cb58;-webkit-text-stroke:2.22px #f4cb58;transform:scaleX(0.9993)">16.00HS.</span>
</p>
<section class="dep">
<span class="t" style="left:99.23px;top:605.63px;font-size:49.40px;letter-spacing:0.30px;color:#fbfbfb;-webkit-text-stroke:2.22px #fbfbfb;transform:scaleX(0.9571)">DEPARTAMENTO</span>
<span class="t" style="left:99.67px;top:668.57px;font-size:57.69px;letter-spacing:0.30px;color:#fbfbfb;-webkit-text-stroke:2.60px #fbfbfb;transform:scaleX(0.9350)">JUAN</span>
<span class="t" style="left:260.58px;top:669.53px;font-size:57.69px;letter-spacing:0.30px;color:#fbfbfb;-webkit-text-stroke:2.60px #fbfbfb;transform:scaleX(0.9799)">MARTIN</span>
<span class="t" style="left:498.19px;top:668.57px;font-size:57.69px;letter-spacing:0.30px;color:#fbfbfb;-webkit-text-stroke:2.60px #fbfbfb;transform:scaleX(0.8356)">DE</span>
<span class="t" style="left:99.00px;top:743.07px;font-size:57.69px;letter-spacing:0.30px;color:#fbfbfb;-webkit-text-stroke:2.60px #fbfbfb;transform:scaleX(0.9235)">PUEYRREDON</span>
<span class="t" style="font-weight:400;left:676.71px;top:661.08px;font-size:67.97px;letter-spacing:3.00px;color:#81c9b6;-webkit-text-stroke:3.40px #81c9b6;transform:scaleX(1.1096)">55</span><span class="t" style="font-weight:400;left:767.68px;top:660.71px;font-size:67.63px;letter-spacing:3.00px;color:#81c9b6;-webkit-text-stroke:3.38px #81c9b6;transform:scaleX(0.9642)">%</span>
</section>
<section class="dep">
<span class="t" style="left:99.73px;top:941.72px;font-size:50.07px;letter-spacing:0.30px;color:#fbfbfb;-webkit-text-stroke:2.25px #fbfbfb;transform:scaleX(0.9431)">DEPARTAMENTO</span>
<span class="t" style="left:98.37px;top:1006.90px;font-size:59.04px;letter-spacing:0.30px;color:#fbfbfb;-webkit-text-stroke:2.66px #fbfbfb;transform:scaleX(0.9868)">AYACUCHO</span>
<span class="t" style="font-weight:400;left:676.74px;top:973.99px;font-size:68.04px;letter-spacing:3.00px;color:#b6f26c;-webkit-text-stroke:3.40px #b6f26c;transform:scaleX(1.1082)">53</span><span class="t" style="font-weight:400;left:767.70px;top:974.66px;font-size:67.63px;letter-spacing:3.00px;color:#b6f26c;-webkit-text-stroke:3.38px #b6f26c;transform:scaleX(0.9638)">%</span>
</section>
<section class="dep">
<span class="t" style="left:99.73px;top:1205.52px;font-size:50.07px;letter-spacing:0.30px;color:#fbfbfb;-webkit-text-stroke:2.25px #fbfbfb;transform:scaleX(0.9431)">DEPARTAMENTO</span>
<span class="t" style="left:100.00px;top:1269.57px;font-size:57.69px;letter-spacing:0.30px;color:#fbfbfb;-webkit-text-stroke:2.60px #fbfbfb;transform:scaleX(0.9249)">BELGRANO</span>
<span class="t" style="font-weight:400;left:676.75px;top:1240.84px;font-size:68.17px;letter-spacing:3.00px;color:#81c9b6;-webkit-text-stroke:3.41px #81c9b6;transform:scaleX(1.0907)">54</span><span class="t" style="font-weight:400;left:767.68px;top:1241.84px;font-size:67.63px;letter-spacing:3.00px;color:#81c9b6;-webkit-text-stroke:3.38px #81c9b6;transform:scaleX(0.9642)">%</span>
</section>
<section class="dep">
<span class="t" style="left:99.23px;top:1470.47px;font-size:49.49px;letter-spacing:0.30px;color:#fbfbfb;-webkit-text-stroke:2.23px #fbfbfb;transform:scaleX(0.9552)">DEPARTAMENTO</span>
<span class="t" style="left:99.24px;top:1534.59px;font-size:57.69px;letter-spacing:0.30px;color:#fbfbfb;-webkit-text-stroke:2.60px #fbfbfb;transform:scaleX(0.9538)">CHACABUCO</span>
<span class="t" style="font-weight:400;left:676.98px;top:1561.78px;font-size:67.56px;letter-spacing:3.00px;color:#b6f26c;-webkit-text-stroke:3.38px #b6f26c;transform:scaleX(1.1119)">50</span><span class="t" style="font-weight:400;left:767.70px;top:1561.95px;font-size:67.63px;letter-spacing:3.00px;color:#b6f26c;-webkit-text-stroke:3.38px #b6f26c;transform:scaleX(0.9638)">%</span>
</section>
</body>
</html>
